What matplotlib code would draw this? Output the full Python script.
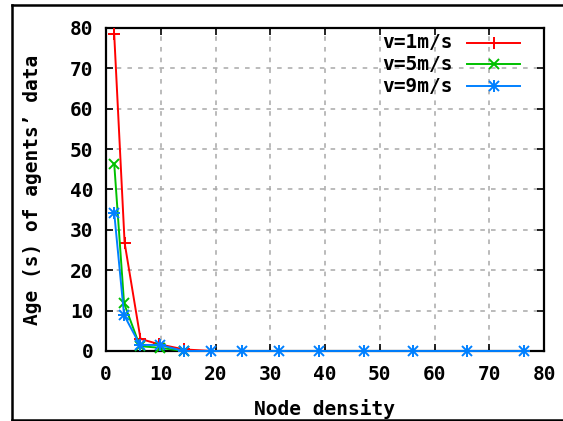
import matplotlib
matplotlib.use("Agg")
import matplotlib.pyplot as plt
from matplotlib.lines import Line2D

# Age of agents' data versus node density for three agent speeds
x_v1 = [1.5, 3.4, 6.3, 9.6, 14.2, 19.2]
y_v1 = [78.4, 26.8, 3.0, 1.7, 0.4, 0.0]

x_v5 = [1.5, 3.3, 6.2, 9.8, 14.2]
y_v5 = [46.4, 11.8, 1.2, 0.8, 0.0]

x_v9 = [1.5, 3.3, 6.2, 9.8, 14.2, 19.2, 24.9, 31.6, 38.9, 47.2, 56.1, 66.0, 76.3]
y_v9 = [34.2, 8.9, 1.5, 1.5, 0.0, 0.0, 0.0, 0.0, 0.0, 0.0, 0.0, 0.0, 0.0]

labels = ["v=1m/s", "v=5m/s", "v=9m/s"]
colors = ["#ff0000", "#00c000", "#0080ff"]

xticks = [0, 10, 20, 30, 40, 50, 60, 70, 80]
yticks = [0, 10, 20, 30, 40, 50, 60, 70, 80]

FONT = dict(family="DejaVu Sans Mono", weight="bold", size=14)

fig = plt.figure(figsize=(5.63, 4.21), dpi=100)

# outer frame (left, top, bottom edges)
W, H = 563, 421
frame = dict(color="black", lw=1.8, transform=fig.transFigure)
fig.add_artist(Line2D([12 / W, 12 / W], [1 - 420 / H, 1 - 4.5 / H], **frame))
fig.add_artist(Line2D([12 / W, 1.0], [1 - 4.5 / H, 1 - 4.5 / H], **frame))
fig.add_artist(Line2D([12 / W, 1.0], [1 - 420 / H, 1 - 420 / H], **frame))

ax = fig.add_axes([106 / W, 1 - 351 / H, (544 - 106) / W, (351 - 28) / H])

ax.set_xlim(0, 80)
ax.set_ylim(0, 80)
ax.set_xticks(xticks)
ax.set_yticks(yticks)
ax.set_xticklabels([str(t) for t in xticks], **FONT)
ax.set_yticklabels([str(t) for t in yticks], **FONT)
ax.tick_params(direction="in", length=5, width=1.2, top=True, right=True, pad=10)
ax.tick_params(axis="y", pad=9)
for s in ax.spines.values():
    s.set_linewidth(1.6)

ax.grid(True, color="#a8a8a8", linestyle=(0, (3, 4)), linewidth=1.1)
ax.set_axisbelow(True)

ms = 9
lw = 1.4
mw = 1.4
ax.plot(x_v1, y_v1, color=colors[0], lw=lw, marker="+", ms=ms, mew=mw, clip_on=False, zorder=3)
ax.plot(x_v5, y_v5, color=colors[1], lw=lw, marker="x", ms=ms * 0.75, mew=mw, clip_on=False, zorder=4)
ax.plot(x_v9, y_v9, color=colors[2], lw=lw, marker="+", ms=ms, mew=mw, clip_on=False, zorder=5)
ax.plot(x_v9, y_v9, color=colors[2], lw=0, marker="x", ms=ms * 0.75, mew=mw, clip_on=False, zorder=5)

ax.set_xlabel("Node density", labelpad=11, **FONT)
ax.set_ylabel("Age (s) of agents\u2019 data", labelpad=20, **FONT)

# key in the upper right
key_y = [43, 64, 86]
key_markers = [["+"], ["x"], ["+", "x"]]
for lab, col, ky, mks in zip(labels, colors, key_y, key_markers):
    yf = 1 - ky / H
    fig.text(453 / W, yf, lab, ha="right", va="center", **FONT)
    fig.add_artist(Line2D([467 / W, 520 / W], [yf, yf], color=col, lw=lw,
                          transform=fig.transFigure))
    for m in mks:
        fig.add_artist(Line2D([493.5 / W], [yf], color=col, lw=0, marker=m,
                              ms=ms if m == "+" else ms * 0.75, mew=mw,
                              transform=fig.transFigure))

fig.savefig("out.png", dpi=100)
